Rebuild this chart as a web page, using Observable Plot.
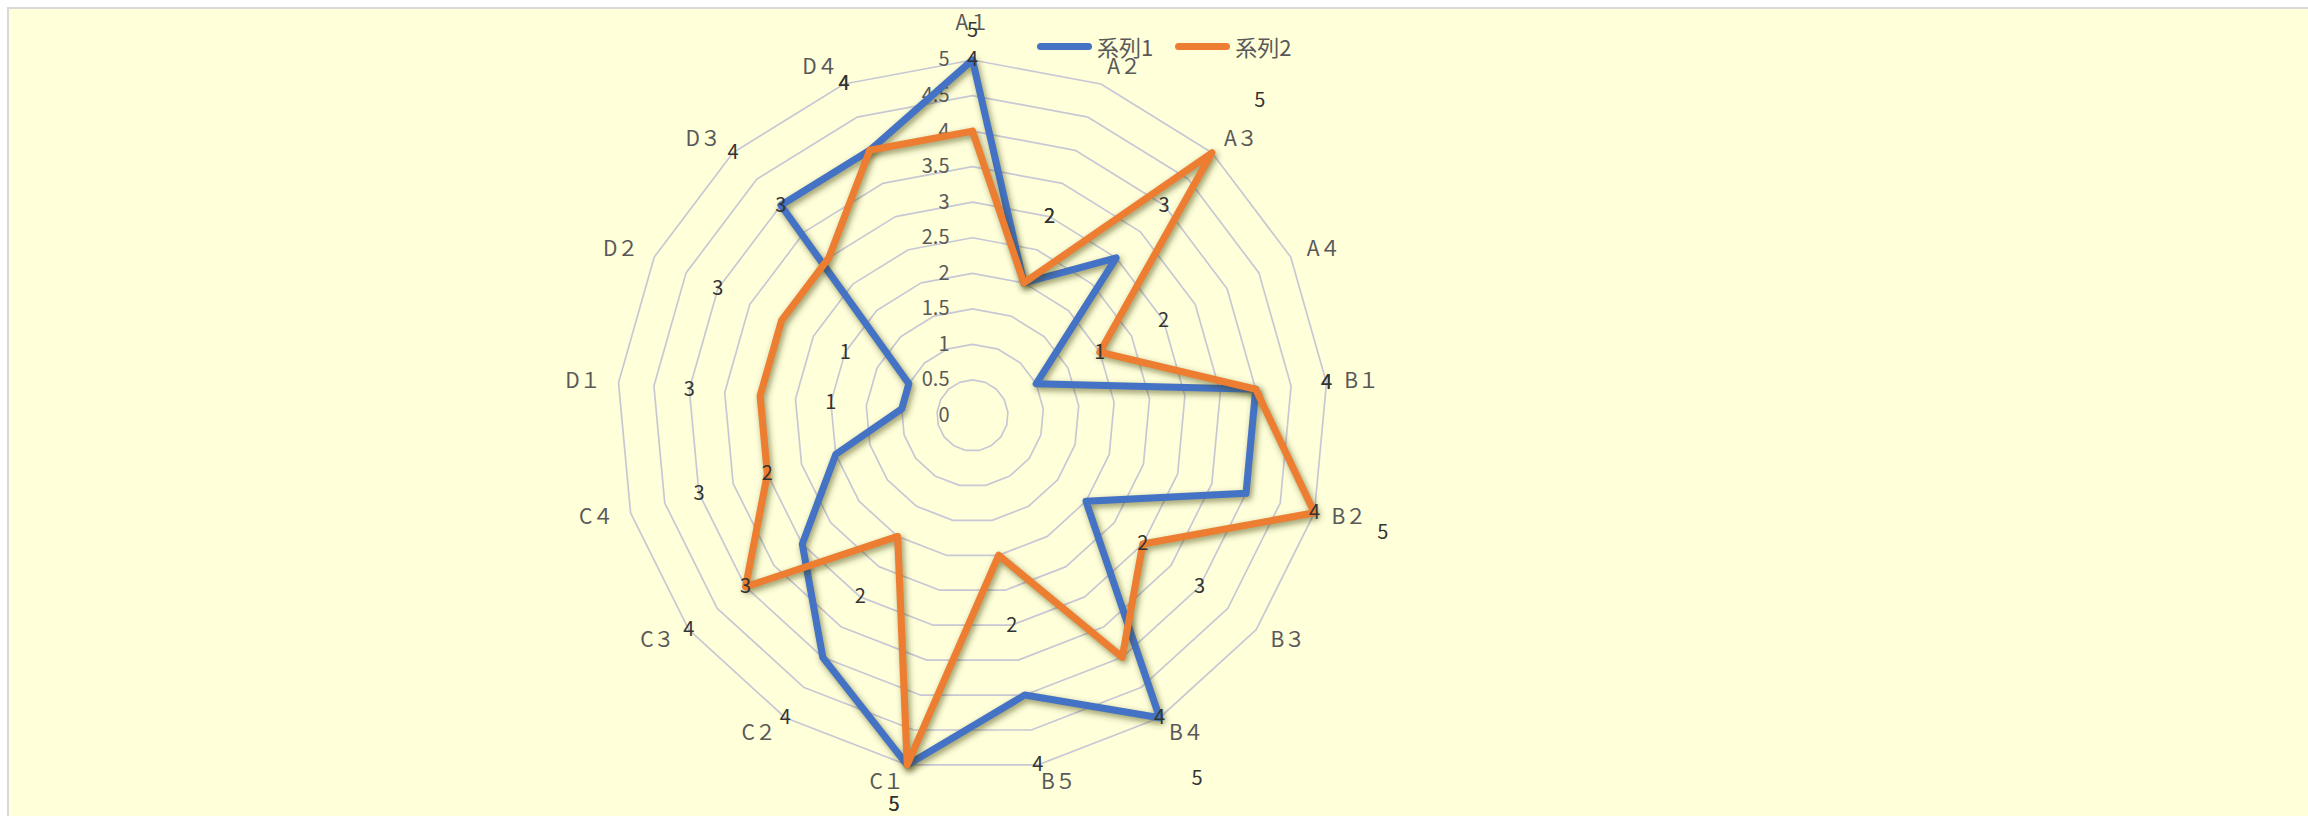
<!DOCTYPE html>
<html>
<head>
<meta charset="utf-8">
<script src="https://cdn.jsdelivr.net/npm/d3@7"></script>
<script src="https://cdn.jsdelivr.net/npm/@observablehq/plot@0.6"></script>
<style>
  html, body { margin: 0; padding: 0; background: #ffffff; width: 2308px; height: 816px; overflow: hidden; }
  #frame { position: absolute; left: 7px; top: 7px; width: 2330px; height: 840px; background: #FFFFDA;
           border-left: 2px solid #d9d9d9; border-top: 2px solid #d9d9d9; }
  #chart { position: absolute; left: 0; top: 0; }
  #legend { position: absolute; left: 1037px; top: 32px; display: flex; align-items: center;
            font-family: "Noto Sans CJK JP", "Noto Sans", sans-serif; font-size: 22px; line-height: 28px; color: #595959; }
  #legend .item { display: flex; align-items: center; margin-right: 22px; }
  #legend .sw { display: inline-block; width: 55px; height: 7px; border-radius: 3.5px; margin-right: 5px; }
</style>
</head>
<body>
<div id="frame"></div>
<div id="chart"></div>
<div id="legend"></div>
<script>
// ---- data ----
const categories = ["A１","A２","A３","A４","B１","B２","B３","B４","B５","C１","C２","C３","C４","D１","D２","D３","D４"];
const seriesNames = ["系列1", "系列2"];
const series1 = [5, 2, 3, 1, 4, 4, 2, 5, 4, 5, 4, 3, 2, 1, 1, 4, 4];
const series2 = [4, 2, 5, 2, 4, 5, 3, 4, 2, 5, 2, 4, 3, 3, 3, 3, 4];
const radialTicks = [0, 0.5, 1, 1.5, 2, 2.5, 3, 3.5, 4, 4.5, 5];
const seriesColors = ["#4472C4", "#ED7D31"];

// ---- layout ----
const W = 2308, H = 816;
const CX = 972, CY = 415;       // centre of the radar in pixels
const U = 71.1;                 // pixels per value unit
const rMax = 5;
const labelTopPx = 30, labelBottomPx = 804;   // data labels are kept inside the chart area
const n = categories.length;
const ang = i => 2 * Math.PI * (i % n) / n;
const pol = (r, i) => ({x: r * Math.sin(ang(i)), y: r * Math.cos(ang(i))});
const yTop = (CY - labelTopPx) / U, yBottom = -(labelBottomPx - CY) / U;

// grid rings
const rings = [];
for (const lv of radialTicks.filter(d => d > 0))
  for (let i = 0; i <= n; i++) rings.push({level: lv, ...pol(lv, i)});

// series polylines (closed)
const allSeries = [series1, series2];
const seriesPts = allSeries.map((vals, s) => {
  const pts = [];
  for (let i = 0; i <= n; i++) pts.push({series: seriesNames[s], ...pol(vals[i % n], i)});
  return pts;
});

// data labels: value, drawn one unit further out, clamped to chart area
const dataLabels = [];
allSeries.forEach((vals, s) => {
  vals.forEach((v, i) => {
    const p = pol(v + 1, i);
    dataLabels.push({series: seriesNames[s], text: String(v), x: p.x, y: Math.max(yBottom, Math.min(yTop, p.y))});
  });
});

// category labels
const catLabels = categories.map((c, i) => {
  const p = pol(rMax + 0.25, i);
  const s = Math.sin(ang(i));
  const anchor = s > 0.01 ? "start" : s < -0.01 ? "end" : "middle";
  return {text: c, x: p.x, y: anchor === "middle" ? p.y + 0.27 : p.y, anchor};
});

const font = '"Noto Sans CJK JP", "Noto Sans", sans-serif';

const seriesMarks = seriesPts.flatMap((pts, s) => [
  Plot.line(pts, {x: "x", y: "y", stroke: "#3b3b00", strokeOpacity: 0.55, strokeWidth: 7, dx: 2, dy: 3,
    strokeLinejoin: "round", strokeLinecap: "round"}),
  Plot.line(pts, {x: "x", y: "y", stroke: seriesColors[s], strokeWidth: 7,
    strokeLinejoin: "round", strokeLinecap: "round"})
]);

const catMarks = ["start", "middle", "end"].map(a =>
  Plot.text(catLabels.filter(d => d.anchor === a), {x: "x", y: "y", text: "text", textAnchor: a,
    fill: "#595959", fontSize: 21}));

const plot = Plot.plot({
  width: W, height: H,
  marginLeft: 0, marginRight: 0, marginTop: 0, marginBottom: 0,
  x: {domain: [-CX / U, (W - CX) / U], range: [0, W], axis: null},
  y: {domain: [-(H - CY) / U, CY / U], range: [H, 0], axis: null},
  style: {background: "transparent", overflow: "visible", fontFamily: font},
  marks: [
    Plot.line(rings, {x: "x", y: "y", z: "level", stroke: "#c8c8d5", strokeWidth: 1.7}),
    Plot.text(radialTicks, {x: () => 0, y: d => d, text: d => String(d), textAnchor: "end", dx: -23,
      fill: "#595959", fontSize: 20}),
    ...seriesMarks,
    ...catMarks,
    Plot.text(dataLabels, {x: "x", y: "y", text: "text", fill: "#333333", fontSize: 20})
  ]
});

// soft blur on the shadow copies (Excel-style shadow)
const svg = d3.select(plot);
const defs = svg.insert("defs", ":first-child");
defs.append("filter").attr("id", "shadowBlur").attr("x", "-20%").attr("y", "-20%").attr("width", "140%").attr("height", "140%")
  .append("feGaussianBlur").attr("stdDeviation", 3);
const lineGroups = svg.selectAll('g[aria-label="line"]').nodes();
// order: rings, shadow1, line1, shadow2, line2
[1, 3].forEach(k => { if (lineGroups[k]) d3.select(lineGroups[k]).attr("filter", "url(#shadowBlur)"); });

document.getElementById("chart").appendChild(plot);

// legend
const legend = d3.select("#legend");
seriesNames.forEach((name, i) => {
  const item = legend.append("span").attr("class", "item");
  item.append("span").attr("class", "sw").style("background", seriesColors[i]);
  item.append("span").text(name);
});
</script>
</body>
</html>
